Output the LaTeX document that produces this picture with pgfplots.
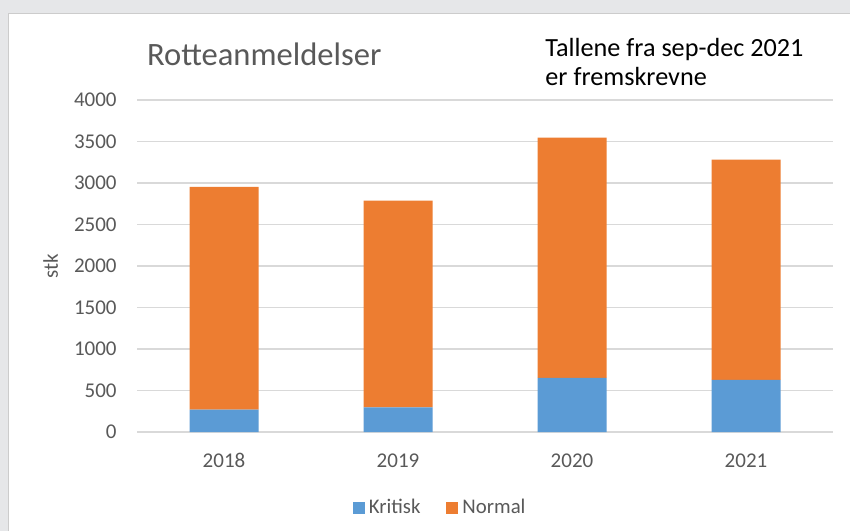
\documentclass[border=0pt]{standalone}
\usepackage{pgfplots}
\pgfplotsset{compat=1.18}
\usepackage{fontspec}
\setmainfont{Carlito}
\definecolor{kblue}{HTML}{5B9BD5}
\definecolor{korange}{HTML}{ED7D31}
\definecolor{gridgray}{HTML}{D9D9D9}
\definecolor{txtgray}{HTML}{595959}
\definecolor{bggray}{HTML}{E6E7E9}
\begin{document}
\begin{tikzpicture}
\useasboundingbox (0pt,0pt) rectangle (425pt,-265.5pt);
\fill[bggray] (0pt,0pt) rectangle (425pt,-265.5pt);
\fill[white] (4pt,-6.5pt) rectangle (425pt,-265.5pt);
\draw[color=gray!40, line width=0.4pt] (4pt,-265.5pt) -- (4pt,-6.5pt) -- (425pt,-6.5pt);
\begin{axis}[
  at={(68.5pt,-216pt)}, anchor=south west,
  scale only axis, width=348pt, height=166pt,
  xmin=-0.5, xmax=3.5, ymin=0, ymax=4000,
  ybar stacked, bar width=34.5pt,
  axis line style={draw=none},
  major tick length=0pt,
  ytick={0,500,...,4000},
  xtick={0,1,2,3}, xticklabels={2018,2019,2020,2021},
  ymajorgrids, grid style={gridgray, line width=0.8pt},
  tick label style={font=\fontsize{10.5pt}{12pt}\selectfont, text=txtgray},
  /pgf/number format/assume math mode=true,
  /pgf/number format/1000 sep={},
  yticklabel style={anchor=east, inner sep=0pt, xshift=-10pt},
  xticklabel style={anchor=base, inner sep=0pt, yshift=-17.5pt},
  ylabel={stk},
  ylabel style={at={(axis description cs:-0.124,0.5)}, anchor=center, font=\fontsize{10.5pt}{12pt}\selectfont, text=txtgray},
  legend columns=2,
  legend style={at={(0.437,-0.229)}, anchor=center, draw=none, fill=none,
    font=\fontsize{10.4pt}{12pt}\selectfont, text=txtgray,
    /tikz/every even column/.append style={column sep=11pt}},
  legend image code/.code={\fill[#1] (0pt,-3pt) rectangle (6pt,3pt);},
]
\addplot[fill=kblue, draw=none] coordinates {(0,271) (1,298) (2,653) (3,628)};
\addplot[fill=korange, draw=none] coordinates {(0,2683) (1,2490) (2,2893) (3,2655)};
\legend{Kritisk, Normal}
\end{axis}
\node[anchor=base west, inner sep=0pt, text=txtgray, font=\fontsize{16.3pt}{19pt}\selectfont] at (73.35pt,-32.5pt) {Rotteanmeldelser};
\node[anchor=base west, inner sep=0pt, font=\fontsize{13.1pt}{16pt}\selectfont] at (272.5pt,-28.35pt) {Tallene fra sep-dec 2021};
\node[anchor=base west, inner sep=0pt, font=\fontsize{13.1pt}{16pt}\selectfont] at (272.5pt,-42.5pt) {er fremskrevne};
\end{tikzpicture}
\end{document}
